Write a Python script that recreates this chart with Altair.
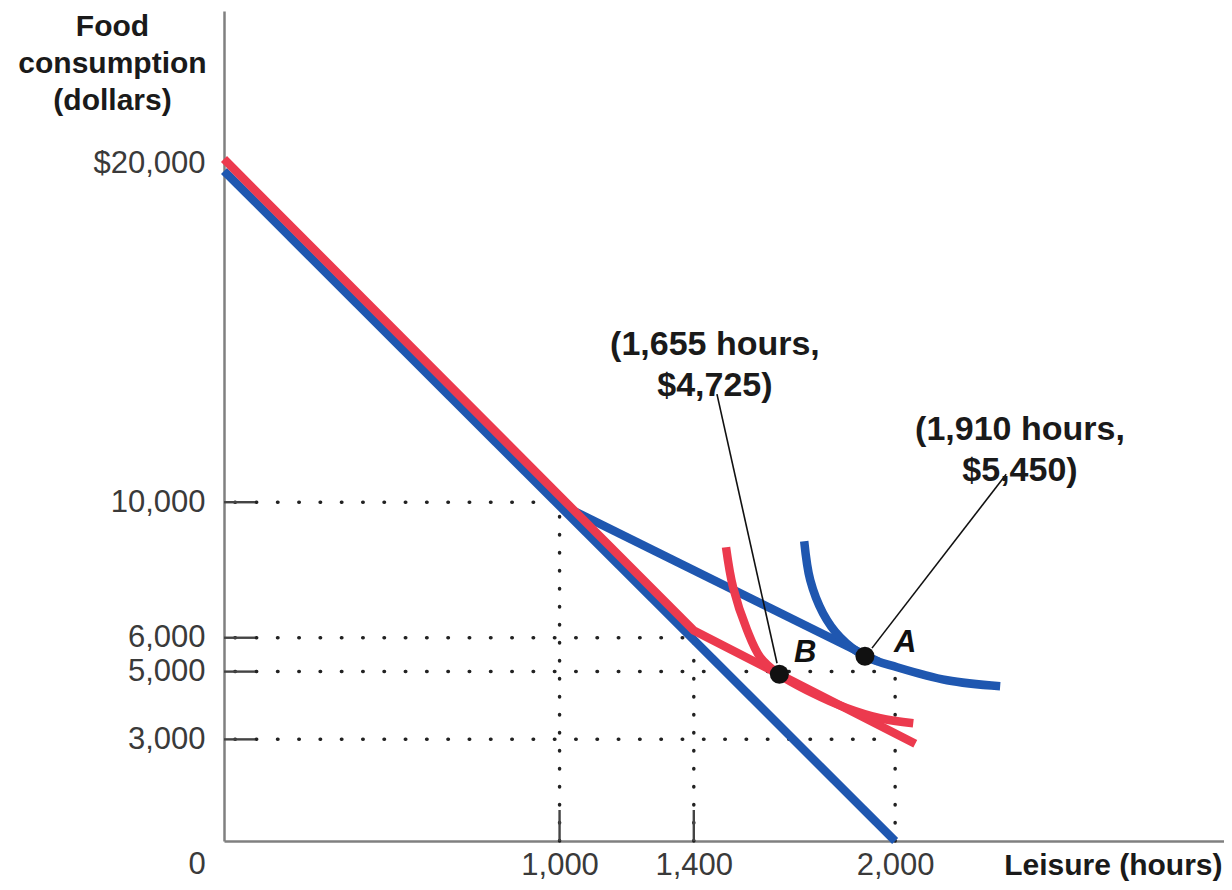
import altair as alt
import pandas as pd

# ---- data ----
blue_budget_seg = ["old", "old", "new", "new"]
blue_budget_x = [0, 2000, 1000, 1950]
blue_budget_y = [19780, 0, 9950, 5300]

red_budget_x = [0, 1400, 2060]
red_budget_y = [20130, 6210, 2870]

blue_ic_x = [1729, 1747, 1785, 1836, 1910, 2006, 2155, 2313]
blue_ic_y = [8849, 7698, 6724, 6015, 5454, 5129, 4745, 4568]

red_ic_x = [1496, 1517, 1559, 1598, 1654, 1755, 1857, 1955, 2054]
red_ic_y = [8671, 7490, 6221, 5424, 4922, 4361, 3918, 3623, 3475]

point_names = ["A", "B"]
point_x = [1910, 1655]
point_y = [5454, 4922]

letter_x = [2030, 1732]
letter_y = [5837, 5541]

annot_text = ["(1,910 hours,\n$5,450)", "(1,655 hours,\n$4,725)"]
annot_x = [2372, 1463]
annot_y = [12126, 14635]

leader_x = [2331, 1469]
leader_y = [10826, 13189]
leader_x2 = [1931, 1648]
leader_y2 = [5693, 5246]

hguide_y = [10000, 6000, 5000, 3000]
hguide_x2 = [1000, 1400, 2000, 2000]
vguide_x = [1000, 1400, 2000]
vguide_y2 = [10000, 6000, 5000]

ytick_values = [10000, 6000, 5000, 3000]
xtick_values = [1000, 1400]

y_label_values = [3000, 5000, 6000, 10000, 20000]
x_label_values = [1000, 1400, 2000]

BLUE = "#1f57b0"
RED = "#ec3a4e"
LABEL_FONT = "Liberation Sans"
BOLD_FONT = "Liberation Sans"
LABEL_SIZE = 31

xscale = alt.Scale(domain=[0, 2980], nice=False, zero=False)
yscale = alt.Scale(domain=[0, 24500], nice=False, zero=False)

x_axis = alt.Axis(
    values=x_label_values, labelExpr="format(datum.value, ',')",
    labelFont=LABEL_FONT, labelFontSize=LABEL_SIZE,
    labelColor="#3a3a3a", labelPadding=24, labelBaseline="middle", labelFlush=False,
    labelOverlap=False, ticks=False, tickSize=0, grid=False,
    domainColor="#808080", domainWidth=2.5,
    title="Leisure (hours)", titleFont=BOLD_FONT, titleFontSize=30, titleFontWeight="bold",
    titleColor="#1a1a1a", titleX=998, titleY=24, titleAlign="right",
    titleBaseline="middle", titleAngle=0,
)
y_axis = alt.Axis(
    values=y_label_values,
    labelExpr="datum.value == 20000 ? '$20,000' : format(datum.value, ',')",
    labelFont=LABEL_FONT, labelFontSize=LABEL_SIZE, labelColor="#3a3a3a", labelPadding=19,
    labelBaseline="middle", labelFlush=False, labelOverlap=False,
    ticks=False, tickSize=0, grid=False, domainColor="#808080", domainWidth=2.5,
    title=["Food", "consumption", "(dollars)"], titleFont=BOLD_FONT, titleFontSize=30,
    titleFontWeight="bold", titleColor="#1a1a1a", titleAngle=0, titleAlign="center",
    titleX=-112, titleY=24, titleBaseline="alphabetic", titleLineHeight=37,
)


def X(field="x"):
    return alt.X(f"{field}:Q", scale=xscale, axis=x_axis)


def Y(field="y"):
    return alt.Y(f"{field}:Q", scale=yscale, axis=y_axis)


hguides = pd.DataFrame({"x": [0] * len(hguide_y), "x2": hguide_x2, "y": hguide_y})
vguides = pd.DataFrame({"x": vguide_x, "y": [0] * len(vguide_x), "y2": vguide_y2})

hdots = alt.Chart(hguides).mark_rule(
    strokeDash=[0.5, 20.8], strokeDashOffset=10.4, strokeCap="round", strokeWidth=3.5, color="#222"
).encode(x=X(), x2="x2:Q", y=Y())
vdots = alt.Chart(vguides).mark_rule(
    strokeDash=[0.5, 17.5], strokeCap="round", strokeWidth=3.5, color="#222"
).encode(x=X(), y=Y(), y2="y2:Q")

yticks = alt.Chart(pd.DataFrame({"y": ytick_values})).mark_rule(
    strokeWidth=2.4, color="#444"
).encode(x=alt.value(0), x2=alt.value(31), y=Y())
xticks = alt.Chart(pd.DataFrame({"x": xtick_values})).mark_rule(
    strokeWidth=2.4, color="#444"
).encode(x=X(), y=alt.value(830), y2=alt.value(799))

blue_budget = alt.Chart(pd.DataFrame({
    "seg": blue_budget_seg, "x": blue_budget_x, "y": blue_budget_y
})).mark_line(color=BLUE, strokeWidth=8.5, strokeCap="butt").encode(
    x=X(), y=Y(), detail="seg:N",
)

blue_ic = alt.Chart(pd.DataFrame({"x": blue_ic_x, "y": blue_ic_y})).mark_line(
    color=BLUE, strokeWidth=8.5, interpolate="catmull-rom", strokeCap="butt"
).encode(x=X(), y=Y())

red_budget = alt.Chart(pd.DataFrame({"x": red_budget_x, "y": red_budget_y})).mark_line(
    color=RED, strokeWidth=8.5, strokeCap="butt"
).encode(x=X(), y=Y())

red_ic = alt.Chart(pd.DataFrame({"x": red_ic_x, "y": red_ic_y})).mark_line(
    color=RED, strokeWidth=8.5, interpolate="catmull-rom", strokeCap="butt"
).encode(x=X(), y=Y())

leaders = alt.Chart(pd.DataFrame({
    "x": leader_x, "y": leader_y, "x2": leader_x2, "y2": leader_y2
})).mark_rule(color="#111", strokeWidth=1.6).encode(
    x=X(), x2="x2:Q", y=Y(), y2="y2:Q",
)

points = alt.Chart(pd.DataFrame({"name": point_names, "x": point_x, "y": point_y})).mark_circle(
    size=360, color="#111", opacity=1
).encode(x=X(), y=Y())

letters = alt.Chart(pd.DataFrame({"name": point_names, "x": letter_x, "y": letter_y})).mark_text(
    font=BOLD_FONT, fontSize=31, fontWeight="bold", fontStyle="italic", color="#111",
    align="center", baseline="middle"
).encode(x=X(), y=Y(), text="name:N")

annots = alt.Chart(pd.DataFrame({"t": annot_text, "x": annot_x, "y": annot_y})).mark_text(
    font=BOLD_FONT, fontSize=34, fontWeight="bold", color="#1a1a1a",
    align="center", baseline="middle", lineBreak="\n", lineHeight=41
).encode(x=X(), y=Y(), text="t:N")

origin = alt.Chart(pd.DataFrame({"x": [0], "y": [0], "t": ["0"]})).mark_text(
    font=LABEL_FONT, fontSize=LABEL_SIZE, color="#3a3a3a", align="center", baseline="middle",
    dx=-27, dy=24
).encode(x=X(), y=Y(), text="t:N")

chart = alt.layer(
    hdots, vdots, yticks, xticks, blue_budget, blue_ic, red_budget, red_ic,
    leaders, points, letters, annots, origin,
).properties(
    width=1000, height=830,
    autosize=alt.AutoSizeParams(type="none"),
    padding={"left": 216, "top": 3, "right": 0, "bottom": 41},
).configure(background="white").configure_view(stroke=None)

chart.save("out.html", embed_options={"renderer": "svg", "actions": False})
